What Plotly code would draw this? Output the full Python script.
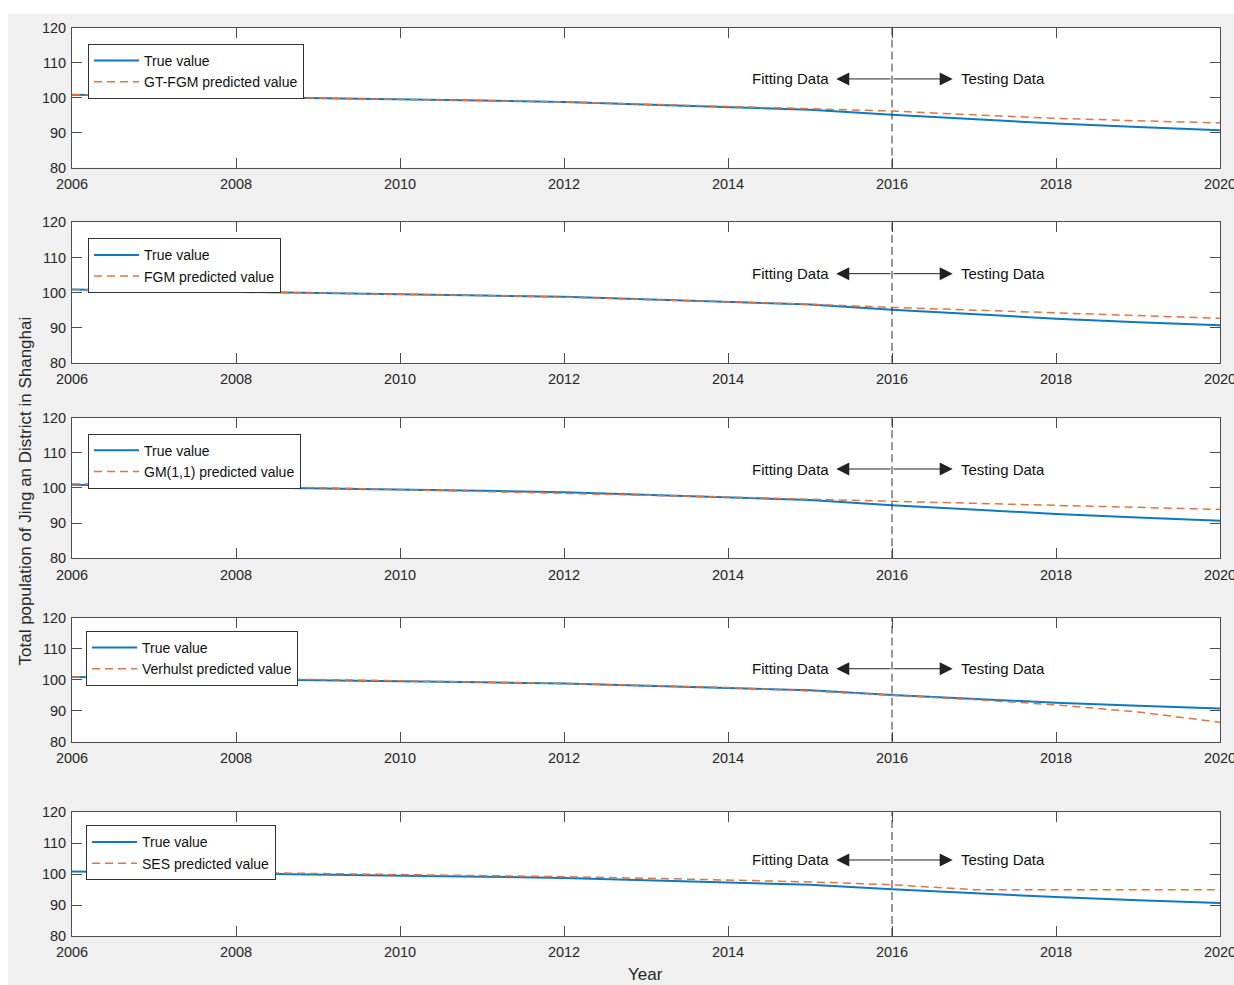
import plotly.graph_objects as go
from plotly.subplots import make_subplots

years = list(range(2006, 2021))
true_value = [100.9, 100.6, 100.3, 100.0, 99.6, 99.2, 98.8, 98.1, 97.4, 96.6, 95.1, 93.8, 92.6, 91.6, 90.7]
gtfgm_pred = [100.9, 100.6, 100.3, 100.0, 99.6, 99.2, 98.8, 98.1, 97.4, 96.8, 96.2, 95.1, 94.1, 93.4, 92.8]
fgm_pred = [100.9, 100.6, 100.3, 100.0, 99.6, 99.2, 98.7, 98.1, 97.4, 96.7, 95.8, 95.0, 94.2, 93.4, 92.7]
gm11_pred = [101.1, 101.2, 100.6, 100.1, 99.5, 99.0, 98.4, 97.9, 97.4, 96.8, 96.2, 95.6, 95.0, 94.5, 93.9]
verhulst_pred = [100.9, 100.7, 100.4, 100.1, 99.7, 99.3, 98.8, 98.2, 97.5, 96.4, 95.1, 93.6, 91.9, 89.6, 86.3]
ses_years = list(range(2007, 2021))
ses_pred = [100.9, 100.6, 100.3, 100.0, 99.6, 99.2, 98.7, 98.1, 97.5, 96.6, 95.0, 95.0, 95.0, 95.0]

model_names = ["GT-FGM predicted value", "FGM predicted value", "GM(1,1) predicted value",
               "Verhulst predicted value", "SES predicted value"]
model_x = [years, years, years, years, ses_years]
model_y = [gtfgm_pred, fgm_pred, gm11_pred, verhulst_pred, ses_pred]

x_ticks = [2006, 2008, 2010, 2012, 2014, 2016, 2018, 2020]
y_ticks = [80, 90, 100, 110, 120]
split_year = 2016
arrow_y = [105.4, 105.4, 105.4, 103.6, 104.6]

# figure geometry (figure pixels; the page adds an 8px body margin)
W, H = 1260, 990
L, T = 64, 17
PLOT_R, PLOT_B = 1212, 928
R, B = W - PLOT_R, H - PLOT_B
pw, ph = PLOT_R - L, PLOT_B - T
panel_px = [(17, 157), (212, 353), (408, 549), (609, 733), (804, 928)]
legend_top_px = [33, 228, 424, 622, 817]
legend_left_px = [80, 80, 80, 78, 78]

def fy(py):
    return (PLOT_B - py) / ph

def fx(px):
    return (px - L) / pw

fig = make_subplots(rows=5, cols=1, vertical_spacing=0.02)
BLUE = "#0f78be"
ORANGE = "#DE7545"
AX = "#4d4d4d"
FONT = "Liberation Sans, Arial, sans-serif"

for i in range(5):
    r = i + 1
    sfx = "" if r == 1 else str(r)
    xr, yr = "x" + sfx, "y" + sfx
    lg = "legend" + sfx
    fig.add_trace(go.Scatter(x=years, y=true_value, mode="lines", name="True value",
                             line=dict(color=BLUE, width=2), legend=lg), row=r, col=1)
    fig.add_trace(go.Scatter(x=model_x[i], y=model_y[i], mode="lines", name=model_names[i],
                             line=dict(color=ORANGE, width=1.5, dash="8px,5px"), legend=lg),
                  row=r, col=1)
    fig.add_shape(type="line", x0=split_year, x1=split_year, y0=0, y1=1,
                  xref=xr, yref=yr + " domain",
                  line=dict(color="#333", width=1, dash="8px,4px"))
    for tip in (2015.32, 2016.74):
        fig.add_annotation(x=tip, y=arrow_y[i], ax=split_year, ay=arrow_y[i], xref=xr, yref=yr,
                           axref=xr, ayref=yr, text="", showarrow=True, arrowhead=2,
                           arrowsize=2.6, arrowwidth=1, arrowcolor="#222")
    fig.add_annotation(x=2015.26, y=arrow_y[i], xref=xr, yref=yr, text="Fitting Data",
                       showarrow=False, xanchor="right", yanchor="middle",
                       font=dict(size=15, color="#111", family=FONT))
    fig.add_annotation(x=2016.82, y=arrow_y[i], xref=xr, yref=yr, text="Testing Data",
                       showarrow=False, xanchor="left", yanchor="middle",
                       font=dict(size=15, color="#111", family=FONT))
    y0, y1 = panel_px[i]
    fig.update_yaxes(domain=[fy(y1), fy(y0)], range=[80, 120], tickvals=y_ticks, row=r, col=1)
    fig.update_xaxes(range=[2006, 2020], tickvals=x_ticks, row=r, col=1)
    leg = dict(x=fx(legend_left_px[i]), y=fy(legend_top_px[i]), xanchor="left", yanchor="top",
               bgcolor="white", bordercolor="#333", borderwidth=1,
               font=dict(size=14, color="#111", family=FONT), tracegroupgap=0,
               itemwidth=45)
    fig.update_layout({lg: leg})

fig.update_xaxes(showgrid=False, zeroline=False, showline=True, linecolor=AX, linewidth=1,
                 mirror="ticks", ticks="inside", ticklen=10, tickcolor=AX, ticklabelstandoff=3,
                 ticklabeloverflow="allow",
                 tickfont=dict(size=14.5, color="#262626", family=FONT))
fig.update_yaxes(showgrid=False, zeroline=False, showline=True, linecolor=AX, linewidth=1,
                 mirror="ticks", ticks="inside", ticklen=10, tickcolor=AX, ticklabelstandoff=2,
                 tickfont=dict(size=14.5, color="#262626", family=FONT))

fig.add_annotation(x=fx(17), y=fy(482), xref="paper", yref="paper",
                   text="Total population of Jing an District in Shanghai", textangle=-90,
                   xanchor="center", yanchor="middle",
                   showarrow=False, font=dict(size=17, color="#262626", family=FONT))
fig.add_annotation(x=fx(637), y=fy(967), xref="paper", yref="paper", text="Year",
                   xanchor="center", yanchor="middle",
                   showarrow=False, font=dict(size=17, color="#262626", family=FONT))

# thin white strip at the very top of the figure
fig.add_shape(type="rect", xref="paper", yref="paper", x0=fx(-5), x1=fx(W + 5),
              y0=fy(3), y1=fy(-5), fillcolor="white", line=dict(width=0), layer="above")

fig.update_layout(width=W, height=H, margin=dict(l=L, r=R, t=T, b=B),
                  paper_bgcolor="#f0f0f0", plot_bgcolor="white", showlegend=True,
                  font=dict(family=FONT))

fig.write_html("out.html",
               post_script="document.documentElement.style.overflow='hidden';"
                           "document.body.style.overflow='hidden';"
                           "document.body.style.margin='8px 0 0 8px';"
                           "document.body.style.width='1260px';")
